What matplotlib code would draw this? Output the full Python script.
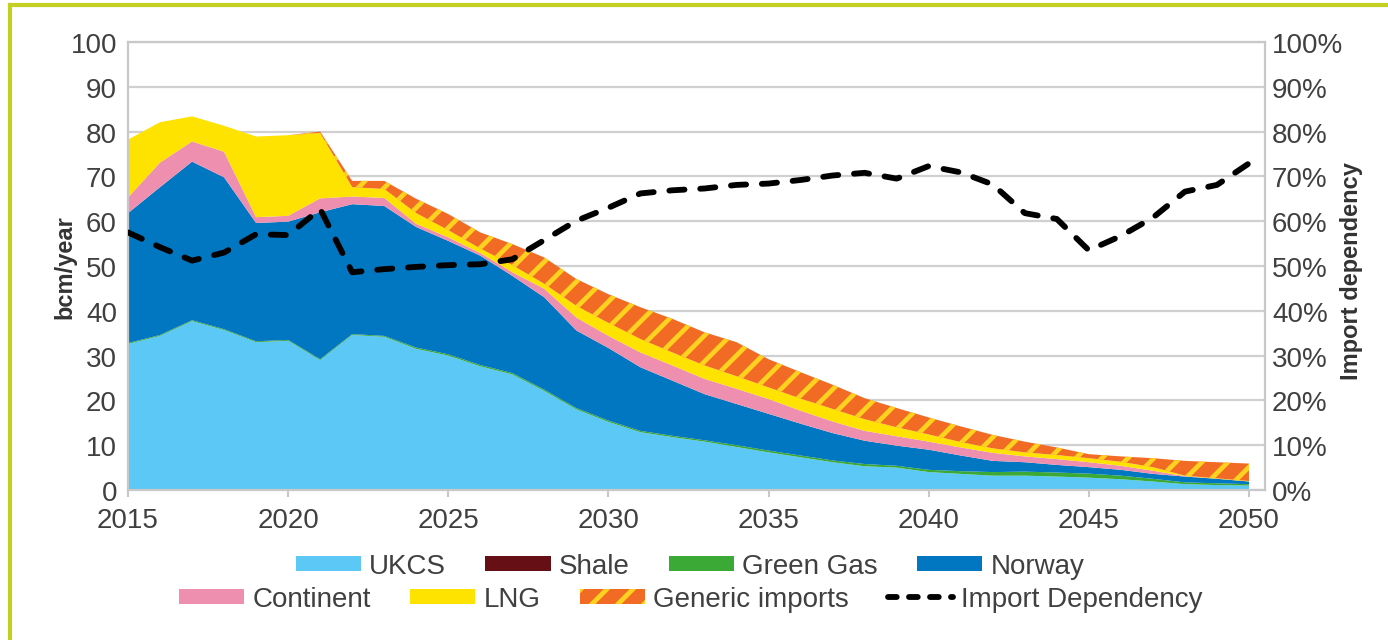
import matplotlib
matplotlib.use("Agg")
import matplotlib.pyplot as plt
import matplotlib.ticker as mticker
from matplotlib.patches import Patch
from matplotlib.lines import Line2D
import numpy as np

# lower dpi so the default hatch spacing matches the tight stripes of the original
DPI = 78
k = 100 / DPI  # sizes below are written as if at 100 dpi

plt.rcParams['font.family'] = ['Liberation Sans', 'DejaVu Sans']
plt.rcParams['hatch.linewidth'] = 3.4 * k

years = list(range(2015, 2051))

# bcm/year, one value per year 2015..2050 (layer thickness)
ukcs = [32.6, 34.4, 37.7, 35.7, 33.0, 33.3, 29.0, 34.6, 34.2, 31.5,
        30.0, 27.6, 25.8, 22.1, 18.0, 15.2, 12.9, 11.8, 10.8, 9.6,
        8.4, 7.3, 6.2, 5.3, 5.0, 4.0, 3.6, 3.2, 3.2, 3.0,
        2.75, 2.4, 1.9, 1.3, 1.1, 1.0]
shale = [0.0] * 36
green_gas = [0.2, 0.2, 0.2, 0.2, 0.2, 0.2, 0.2, 0.2, 0.2, 0.3,
             0.3, 0.3, 0.3, 0.3, 0.3, 0.3, 0.3, 0.3, 0.3, 0.4,
             0.4, 0.4, 0.4, 0.5, 0.4, 0.5, 0.6, 0.8, 0.9, 0.9,
             0.9, 0.8, 0.6, 0.4, 0.4, 0.3]
norway = [29.0, 33.0, 35.4, 33.9, 26.4, 26.4, 32.8, 29.0, 29.0, 26.9,
          25.3, 24.4, 21.7, 20.6, 17.3, 16.2, 14.2, 12.3, 10.3, 9.2,
          8.2, 7.1, 6.1, 5.2, 4.5, 4.5, 3.5, 2.5, 2.1, 1.7,
          1.45, 1.3, 1.1, 1.3, 1.0, 0.6]
continent = [3.5, 5.5, 4.5, 5.7, 1.3, 1.3, 3.1, 1.7, 1.8, 0.7,
             0.8, 0.6, 0.8, 1.9, 2.9, 2.7, 3.3, 3.4, 3.4, 3.4,
             3.3, 2.9, 2.6, 2.2, 2.1, 1.8, 1.8, 1.8, 1.3, 1.3,
             1.1, 0.9, 0.7, 0.1, 0.0, 0.0]
lng = [12.9, 9.0, 5.6, 5.8, 18.0, 18.0, 14.6, 2.1, 2.0, 2.4,
       1.6, 1.0, 1.6, 1.1, 2.6, 2.9, 3.0, 2.9, 3.0, 2.8,
       2.6, 2.7, 2.8, 2.6, 2.0, 1.6, 1.2, 1.0, 0.9, 0.9,
       0.9, 0.9, 0.8, 0.1, 0.1, 0.1]
generic = [0.0, 0.0, 0.0, 0.0, 0.0, 0.0, 0.3, 1.4, 1.8, 3.2,
           3.6, 3.6, 4.7, 5.9, 6.0, 6.4, 7.1, 7.5, 7.4, 7.6,
           6.3, 5.9, 5.4, 4.7, 4.3, 3.8, 3.5, 3.0, 2.4, 1.7,
           0.9, 1.2, 2.0, 3.3, 3.6, 3.9]
# import dependency, %
dependency = [57.5, 54.2, 51.2, 53.0, 57.1, 56.9, 62.7, 48.6, 49.3, 49.8,
              50.2, 50.4, 51.5, 55.8, 60.1, 63.0, 66.2, 66.9, 67.3, 68.1,
              68.4, 69.2, 70.2, 70.8, 69.5, 72.3, 70.9, 68.2, 61.8, 60.5,
              53.5, 56.7, 60.8, 66.6, 68.1, 72.9]

c_ukcs = '#5bc8f5'
c_shale = '#661016'
c_green = '#3aa935'
c_norway = '#0077c0'
c_cont = '#ef8fb0'
c_lng = '#ffe300'
c_orange = '#f26b24'
c_stripe = '#ffd21f'
txt = '#404040'
grid_c = '#d0d0d0'

fig = plt.figure(figsize=(1388 / DPI, 641 / DPI), dpi=DPI)
ax = fig.add_axes([128 / 1388, 1 - 491 / 641, 1137 / 1388, 448 / 641])

layers = [ukcs, shale, green_gas, norway, continent, lng]
ax.stackplot(years, layers,
             colors=[c_ukcs, c_shale, c_green, c_norway, c_cont, c_lng],
             linewidth=0, zorder=2)
base = np.sum(np.array(layers), axis=0)
ax.fill_between(years, base, base + np.array(generic), facecolor=c_orange,
                edgecolor=c_stripe, hatch='/', linewidth=0, zorder=2)

ax.set_xlim(2015, 2050.5)
ax.set_ylim(0, 100)
ax.set_yticks(range(0, 101, 10))
ax.set_xticks(range(2015, 2051, 5))
ax.yaxis.grid(True, color=grid_c, linewidth=1.6 * k, zorder=0)
ax.set_axisbelow(True)
for s in ax.spines.values():
    s.set_color('#c8c8c8')
    s.set_linewidth(1.6 * k)
ax.tick_params(axis='y', length=0, pad=8 * k, labelsize=20 * k, labelcolor=txt)
ax.tick_params(axis='x', length=5 * k, width=1.5 * k, color='#c8c8c8',
               pad=7 * k, labelsize=20 * k, labelcolor=txt)
ax.set_ylabel('bcm/year', fontsize=17 * k, fontweight='bold', color='#333333')
ax.yaxis.set_label_coords(-0.045, 0.5)

ax2 = ax.twinx()
ax2.plot(years, dependency, color='black', linewidth=4.2 * k,
         dashes=(2.6, 2.7), dash_capstyle='round', zorder=5)
ax2.set_ylim(0, 100)
ax2.set_yticks(range(0, 101, 10))
ax2.yaxis.set_major_formatter(mticker.PercentFormatter(xmax=100, decimals=0))
ax2.tick_params(axis='y', length=0, pad=5 * k, labelsize=20 * k, labelcolor=txt)
for s in ax2.spines.values():
    s.set_visible(False)
ax2.set_ylabel('Import dependency', fontsize=17 * k, fontweight='bold',
               color='#333333')
ax2.yaxis.set_label_coords(1.066, 0.49)

row1 = [Patch(facecolor=c_ukcs, label='UKCS'),
        Patch(facecolor=c_shale, label='Shale'),
        Patch(facecolor=c_green, label='Green Gas'),
        Patch(facecolor=c_norway, label='Norway')]
row2 = [Patch(facecolor=c_cont, label='Continent'),
        Patch(facecolor=c_lng, label='LNG'),
        Patch(facecolor=c_orange, edgecolor=c_stripe, hatch='/', linewidth=0,
              label='Generic imports'),
        Line2D([0], [0], color='black', linewidth=4.2 * k, dashes=(1.5, 2.1),
               dash_capstyle='round', label='Import Dependency')]
leg_kw = dict(loc='center', ncol=4, frameon=False, fontsize=20 * k,
              handlelength=2.35, handleheight=0.45, handletextpad=0.3,
              columnspacing=1.4, labelcolor=txt, borderpad=0)
fig.legend(handles=row1, bbox_to_anchor=(690 / 1388, 1 - 567 / 641), **leg_kw)
fig.legend(handles=row2, bbox_to_anchor=(691 / 1388, 1 - 600 / 641), **leg_kw)

# lime frame on top and left edges
border = '#c3cf21'
fig.add_artist(Line2D([10 / 1388, 1], [1 - 6 / 641, 1 - 6 / 641],
                      color=border, linewidth=3 * k, transform=fig.transFigure))
fig.add_artist(Line2D([10 / 1388, 10 / 1388], [0, 1 - 6 / 641],
                      color=border, linewidth=3 * k, transform=fig.transFigure))

fig.savefig('out.png', dpi=DPI)
